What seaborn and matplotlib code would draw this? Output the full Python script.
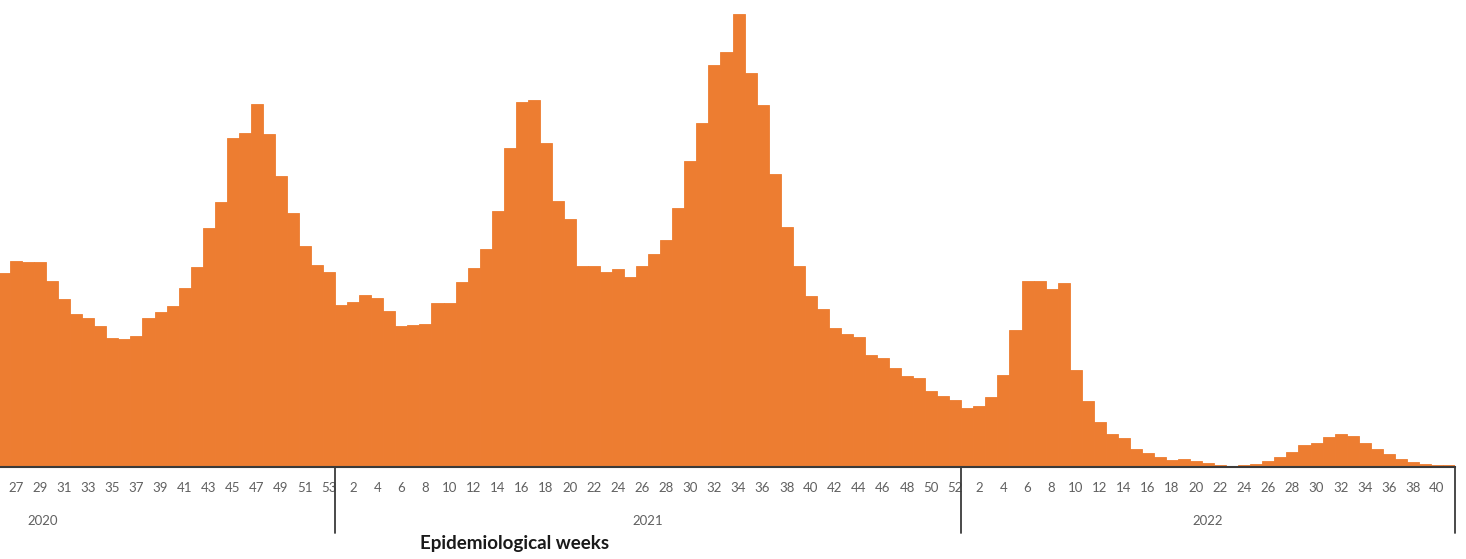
import pandas as pd
import numpy as np
import matplotlib.pyplot as plt
import matplotlib.transforms as mtransforms
import seaborn as sns

# Weekly values (arbitrary units, no y axis shown)
weeks_2020 = list(range(26, 54))
values_2020 = [194, 206, 205, 205, 186, 168, 153, 149, 141, 129, 128, 131, 149, 155,
               161, 179, 200, 239, 265, 329, 334, 363, 333, 291, 254, 221, 202, 195]

weeks_2021 = list(range(1, 53))
values_2021 = [162, 165, 172, 169, 156, 141, 142, 143, 164, 164, 185, 199, 218, 256,
               319, 365, 367, 324, 266, 248, 201, 201, 195, 198, 190, 201, 213, 227,
               259, 306, 344, 402, 415, 453, 394, 362, 293, 240, 201, 171, 158, 139,
               133, 130, 112, 109, 99, 91, 89, 76, 71, 67]

weeks_2022 = list(range(1, 42))
values_2022 = [59, 61, 70, 92, 137, 186, 186, 178, 184, 97, 66, 45, 33, 29, 18, 14,
               10, 7, 8, 6, 4, 2, 1, 2, 3, 6, 10, 15, 22, 24, 30, 33, 31, 24, 18, 13,
               8, 5, 3, 2, 2]

years = ['2020', '2021', '2022']
xlabel = 'Epidemiological weeks'

# Build one long table
data = pd.DataFrame({
    'year': ['2020'] * len(weeks_2020) + ['2021'] * len(weeks_2021) + ['2022'] * len(weeks_2022),
    'week': weeks_2020 + weeks_2021 + weeks_2022,
    'value': values_2020 + values_2021 + values_2022,
})
data['pos'] = np.arange(len(data))

sns.set_style('white')
plt.rcParams['font.family'] = ['Lato', 'DejaVu Sans']

W, H = 1466, 559
fig = plt.figure(figsize=(W / 100, H / 100), dpi=100)
ax = fig.add_axes([-2 / W, (H - 467) / H, 1457 / W, 453 / H])

orange = '#ED7D31'
sns.barplot(x='pos', y='value', data=data, color=orange, saturation=1,
            width=1.0, edgecolor=orange, linewidth=0.6, ax=ax)

ax.set_xlim(-0.5, len(data) - 0.5)
ax.set_ylim(0, 453)
ax.set_xlabel('')
ax.set_ylabel('')
ax.set_yticks([])

# Week ticks: odd weeks in 2020, even weeks afterwards
tick_pos, tick_lab = [], []
for p, y, w in zip(data['pos'], data['year'], data['week']):
    if (y == '2020' and w % 2 == 1) or (y != '2020' and w % 2 == 0 and w <= 40 + 12 * (y == '2021')):
        tick_pos.append(p)
        tick_lab.append(str(w))
ax.set_xticks(tick_pos)
ax.set_xticklabels(tick_lab, fontsize=9.5, color='#606060')
ax.tick_params(axis='x', length=0, pad=11)

for s in ['top', 'right', 'left']:
    ax.spines[s].set_visible(False)
ax.spines['bottom'].set_color('#3a3a3a')
ax.spines['bottom'].set_linewidth(1.5)

# Year separators and year labels below the axis
trans = mtransforms.blended_transform_factory(ax.transData, ax.transAxes)
n20, n21 = len(weeks_2020), len(weeks_2021)
for xs in [n20 - 0.5, n20 + n21 - 0.5, len(data) - 0.5]:
    ax.plot([xs, xs], [0, -0.145], transform=trans, color='#3a3a3a', lw=1.3, clip_on=False)

year_x = [3.2, n20 + n21 / 2 - 0.5, n20 + n21 + len(weeks_2022) / 2 - 0.5]
for yr, xx in zip(years, year_x):
    ax.text(xx, -0.12, yr, transform=trans, ha='center', va='center',
            fontsize=9.5, color='#606060')

fig.text(515 / W, 1 - 543 / H, xlabel, ha='center', va='center',
         fontsize=13.5, fontweight='bold', color='#1a1a1a')

fig.savefig('out.png', dpi=100)
